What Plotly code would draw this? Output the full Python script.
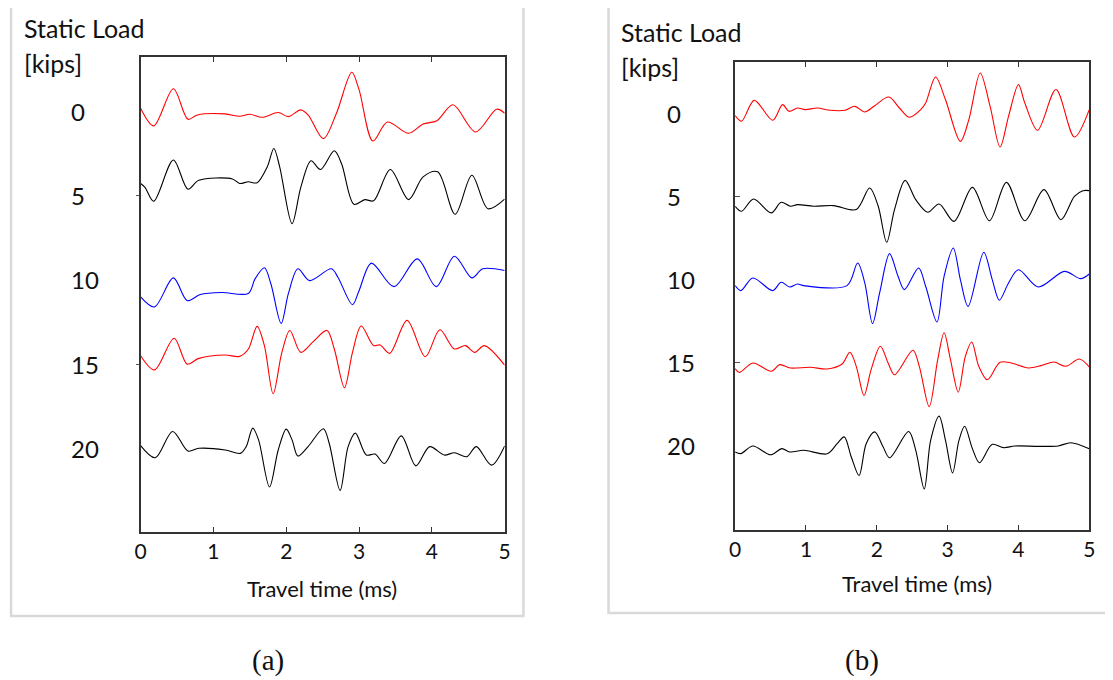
import plotly.graph_objects as go

# ---- data (time in ms, trace position in kips) ----
loads = [0, 5, 10, 15, 20]
load_labels = ["0", "5", "10", "15", "20"]
trace_colors = ["#ff0000", "#000000", "#0000ff", "#ff0000", "#000000"]
x_ticks = [0, 1, 2, 3, 4, 5]

# panel (a)
a_t0 = [0, 0.18, 0.45, 0.65, 0.78, 1.16, 1.36, 1.5, 1.67, 1.89, 2.03, 2.2, 2.3, 2.51, 2.69, 2.9, 3.0,
        3.19, 3.39, 3.68, 3.88, 4.07, 4.29, 4.6, 4.89, 5.0]
a_y0 = [-0.2, 0.85, -1.35, 0.46, 0.2, 0.14, 0.28, 0.16, 0.34, 0.06, 0.3, -0.1, 0.2, 1.61, 0.1, -2.33, -1.3,
        1.75, 0.62, 1.29, 0.74, 0.54, -0.4, 1.21, -0.14, 0.1]
a_t5 = [0, 0.06, 0.18, 0.45, 0.65, 0.8, 1.26, 1.36, 1.48, 1.6, 1.74, 1.83, 1.91, 2.08, 2.2, 2.34, 2.47,
        2.66, 2.76, 2.93, 3.08, 3.2, 3.43, 3.68, 3.88, 4.08, 4.32, 4.55, 4.77, 5.0]
a_y5 = [4.27, 4.5, 5.33, 2.88, 4.61, 4.08, 4.0, 4.27, 4.17, 4.23, 3.28, 2.19, 3.28, 6.66, 4.5, 2.92, 3.44,
        2.33, 3.1, 5.51, 5.23, 5.3, 3.44, 5.23, 3.88, 3.58, 6.1, 3.78, 5.77, 5.2]
a_t10 = [0, 0.19, 0.45, 0.64, 0.82, 1.11, 1.48, 1.57, 1.7, 1.79, 1.93, 2.03, 2.16, 2.32, 2.62, 2.71, 2.91,
         3.0, 3.17, 3.48, 3.8, 4.06, 4.31, 4.55, 4.7, 5.0]
a_y10 = [11.0, 11.6, 9.88, 11.23, 10.87, 10.75, 10.8, 9.95, 9.28, 10.24, 12.58, 10.8, 9.34, 10.04, 9.34,
         9.84, 11.47, 10.64, 9.0, 10.4, 8.75, 10.4, 8.59, 9.88, 9.34, 9.44]
a_t15 = [0, 0.19, 0.46, 0.64, 0.8, 1.16, 1.36, 1.48, 1.6, 1.7, 1.82, 1.94, 2.05, 2.2, 2.37, 2.56, 2.66,
         2.8, 2.91, 3.03, 3.2, 3.29, 3.42, 3.66, 3.91, 4.11, 4.31, 4.46, 4.59, 4.72, 5.0]
a_y15 = [14.5, 15.34, 13.46, 15.0, 14.66, 14.46, 14.54, 14.1, 12.76, 13.9, 16.76, 14.3, 13.0, 14.3, 13.66,
         13.0, 14.1, 16.4, 14.3, 12.74, 13.9, 13.86, 14.36, 12.4, 14.56, 12.96, 14.1, 13.9, 14.3, 13.9, 15.06]
a_t20 = [0, 0.2, 0.44, 0.65, 0.8, 1.16, 1.37, 1.45, 1.54, 1.62, 1.77, 1.89, 2.0, 2.08, 2.16, 2.3, 2.51,
         2.59, 2.74, 2.85, 2.95, 3.1, 3.22, 3.35, 3.58, 3.78, 3.97, 4.17, 4.31, 4.48, 4.61, 4.82, 5.0]
a_y20 = [19.84, 20.56, 19.0, 20.16, 20.0, 20.1, 20.3, 19.9, 18.8, 19.5, 22.3, 20.1, 18.86, 19.5, 20.46,
         19.9, 18.84, 19.7, 22.5, 19.9, 19.1, 20.4, 20.34, 20.9, 19.26, 21.04, 19.9, 20.4, 20.26, 20.5,
         19.9, 21.0, 19.86]

# panel (b)
b_t0 = [0, 0.09, 0.27, 0.53, 0.67, 0.76, 0.88, 0.99, 1.16, 1.34, 1.55, 1.69, 1.83, 1.97, 2.17, 2.32,
        2.46, 2.62, 2.69, 2.83, 2.97, 3.18, 3.3, 3.46, 3.6, 3.74, 3.86, 4.0, 4.09, 4.27, 4.53, 4.79, 5.0]
b_y0 = [0.1, 0.44, -0.82, 0.38, -0.56, -0.16, -0.36, -0.26, -0.36, -0.22, -0.22, -0.46, -0.12, -0.5,
        -1.02, -0.36, 0.2, -0.26, -0.66, -2.23, -0.86, 1.65, 0.34, -2.47, -0.46, 1.99, 0.14, -1.77, -0.66,
        0.98, -1.47, 1.39, -0.26]
b_t5 = [0, 0.09, 0.26, 0.51, 0.65, 0.78, 0.88, 1.11, 1.39, 1.71, 1.9, 2.02, 2.14, 2.25, 2.4, 2.55, 2.72,
        2.88, 3.09, 3.35, 3.59, 3.83, 4.09, 4.36, 4.6, 4.79, 4.91, 5.0]
b_y5 = [5.56, 5.86, 5.12, 5.96, 5.32, 5.56, 5.46, 5.56, 5.52, 5.76, 4.46, 5.56, 7.73, 5.76, 4.0, 5.16,
        5.92, 5.42, 6.47, 4.42, 6.43, 4.12, 6.43, 4.56, 6.37, 4.96, 4.62, 4.62]
b_t10 = [0, 0.08, 0.25, 0.53, 0.65, 0.77, 0.88, 0.97, 1.58, 1.73, 1.83, 1.94, 2.04, 2.18, 2.3, 2.39,
         2.59, 2.69, 2.85, 2.95, 3.08, 3.18, 3.29, 3.51, 3.63, 3.73, 3.86, 4.0, 4.28, 4.65, 4.88, 5.0]
b_y10 = [10.34, 10.64, 9.88, 10.64, 10.14, 10.42, 10.24, 10.34, 10.34, 8.98, 10.18, 12.63, 10.78, 8.41,
         9.78, 10.58, 9.28, 10.38, 12.53, 9.78, 8.07, 9.98, 11.59, 8.33, 9.98, 11.22, 10.18, 9.38, 10.42,
         9.48, 9.92, 9.64]
b_t15 = [0, 0.06, 0.25, 0.51, 0.63, 0.78, 1.06, 1.3, 1.51, 1.62, 1.71, 1.82, 1.92, 2.05, 2.16, 2.25,
         2.51, 2.6, 2.74, 2.86, 2.95, 3.04, 3.15, 3.25, 3.34, 3.44, 3.56, 3.74, 3.9, 4.14, 4.32, 4.5, 4.67,
         4.86, 5.0]
b_y15 = [15.34, 15.57, 15.0, 15.5, 15.1, 15.3, 15.26, 15.36, 15.06, 14.35, 15.2, 16.96, 15.4, 13.99, 15.0,
         15.71, 14.23, 15.2, 17.63, 14.8, 13.18, 14.8, 16.76, 14.6, 13.74, 15.2, 16.01, 14.96, 15.0, 15.3,
         15.16, 14.94, 15.2, 14.76, 15.24]
b_t20 = [0, 0.08, 0.25, 0.5, 0.66, 0.77, 0.97, 1.3, 1.44, 1.54, 1.64, 1.75, 1.85, 1.97, 2.09, 2.18, 2.45,
         2.55, 2.67, 2.76, 2.88, 2.97, 3.07, 3.16, 3.24, 3.35, 3.45, 3.63, 3.79, 3.95, 4.28, 4.56, 4.74, 5.0]
b_y20 = [20.36, 20.46, 20.0, 20.53, 20.16, 20.36, 20.26, 20.47, 19.86, 19.45, 20.66, 21.78, 19.86, 19.15,
         20.06, 20.71, 19.13, 20.26, 22.59, 19.66, 18.2, 19.66, 21.62, 19.66, 18.81, 20.16, 21.01, 19.9,
         20.1, 20.0, 20.02, 20.0, 19.8, 20.16]

panel_a = [(a_t0, a_y0), (a_t5, a_y5), (a_t10, a_y10), (a_t15, a_y15), (a_t20, a_y20)]
panel_b = [(b_t0, b_y0), (b_t5, b_y5), (b_t10, b_y10), (b_t15, b_y15), (b_t20, b_y20)]

W, H = 1113, 680
OFF = 8  # default body margin of the html page
FONT = "Lato"


def px(x):
    return (x - OFF) / W


def py(y):
    return 1 - (y - OFF) / H


fig = go.Figure()
for (t, y), col in zip(panel_a, trace_colors):
    fig.add_trace(go.Scatter(x=t, y=y, mode="lines", line=dict(color=col, width=1.1, shape="spline", smoothing=0.9),
                             xaxis="x", yaxis="y", showlegend=False, hoverinfo="skip"))
for (t, y), col in zip(panel_b, trace_colors):
    fig.add_trace(go.Scatter(x=t, y=y, mode="lines", line=dict(color=col, width=1.1, shape="spline", smoothing=0.9),
                             xaxis="x2", yaxis="y2", showlegend=False, hoverinfo="skip"))

xaxis_common = dict(range=[0, 5], tickvals=x_ticks, ticks="inside", ticklen=5, tickcolor="#333",
                    showline=True, linecolor="#333", linewidth=1.5, mirror="ticks", showgrid=False,
                    zeroline=False, tickfont=dict(family=FONT, size=21, color="#111"))
yaxis_common = dict(tickvals=[5, 15], showticklabels=False, showline=True, linecolor="#333", linewidth=1.5,
                    mirror=True, showgrid=False, zeroline=False, tickcolor="#555")

fig.update_layout(
    width=W, height=H, margin=dict(l=0, r=0, t=0, b=0),
    paper_bgcolor="white", plot_bgcolor="white",
    xaxis=dict(domain=[px(136), px(504)], anchor="y", **xaxis_common),
    yaxis=dict(domain=[py(532), py(57)], anchor="x", range=[24.97, -3.24], ticks="outside", ticklen=3,
               **yaxis_common),
    xaxis2=dict(domain=[px(737), px(1095)], anchor="y2", **xaxis_common),
    yaxis2=dict(domain=[py(530), py(62)], anchor="x2", range=[25.06, -3.13], ticks="inside", ticklen=5,
                **yaxis_common),
)

# light grey frames round each panel
fig.add_shape(type="rect", xref="paper", yref="paper", x0=px(5), x1=px(523), y0=py(616), y1=py(2),
              line=dict(color="#d9d9d9", width=2.5), layer="below")
fig.add_shape(type="rect", xref="paper", yref="paper", x0=px(609), x1=px(1140), y0=py(613), y1=py(5),
              line=dict(color="#d9d9d9", width=2.5), layer="below")

head = dict(family=FONT, size=25, color="#111")
num = dict(family=FONT, size=24, color="#111")
for left, top in [(16, 28), (620, 32)]:
    fig.add_annotation(x=px(left), y=py(top), xref="paper", yref="paper", text="Static Load",
                       showarrow=False, xanchor="left", yanchor="middle", font=head)
    fig.add_annotation(x=px(left), y=py(top + 35), xref="paper", yref="paper", text="[kips]",
                       showarrow=False, xanchor="left", yanchor="middle", font=head)

for lx, ref in [(64, "y"), (666, "y2")]:
    for v, lab in zip(loads, load_labels):
        fig.add_annotation(x=px(lx), y=v, xref="paper", yref=ref, text=lab, showarrow=False,
                           xanchor="left", yanchor="middle", font=num)

for cx, cy in [(319, 588), (921, 583)]:
    fig.add_annotation(x=px(cx), y=py(cy), xref="paper", yref="paper", text="Travel time (ms)",
                       showarrow=False, xanchor="center", yanchor="middle",
                       font=dict(family=FONT, size=22, color="#111"))

for cx, lab in [(265, "(a)"), (865, "(b)")]:
    fig.add_annotation(x=px(cx), y=py(660), xref="paper", yref="paper", text=lab, showarrow=False,
                       xanchor="center", yanchor="middle",
                       font=dict(family="Liberation Serif", size=29, color="#111"))

fig.write_html("out.html")
